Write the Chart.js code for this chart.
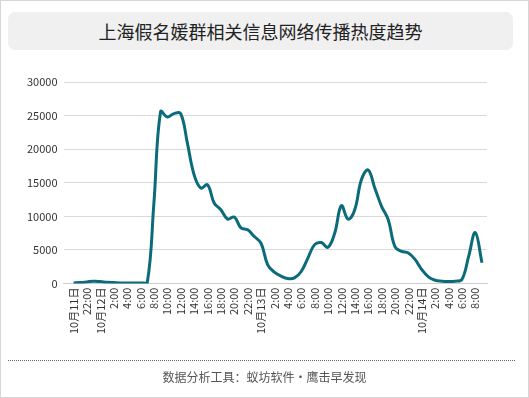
<!DOCTYPE html>
<html>
<head>
<meta charset="utf-8">
<script src="https://cdn.jsdelivr.net/npm/chart.js@4"></script>
<style>
    html, body { margin: 0; padding: 0; background: #fff; }
    body { width: 529px; height: 398px; position: relative; overflow: hidden; font-family: "Noto Sans CJK SC", "Noto Sans", sans-serif; }
    #frame { position: absolute; left: 0; top: 0; width: 527px; height: 396px; border: 1px solid #d6d6d6; }
    #title { position: absolute; left: 8px; top: 12px; width: 505px; height: 38px; background: #f0f0f0; border-radius: 7px;
        text-align: center; line-height: 38px; font-size: 18px; color: #222; }
    #chartBox { position: absolute; left: 0; top: 0; width: 529px; height: 398px; }
    #rule { position: absolute; left: 8px; top: 360px; width: 507px; border-top: 1px dotted #666; }
    #footer { position: absolute; left: 0; top: 368px; width: 529px; text-align: center; font-size: 12px; color: #555; }
</style>
</head>
<body>
<div id="frame"></div>
<div id="title">上海假名媛群相关信息网络传播热度趋势</div>
<div id="chartBox"><canvas id="myChart" width="529" height="398"></canvas></div>
<div id="rule"></div>
<div id="footer">数据分析工具：蚁坊软件·鹰击早发现</div>

<script>
// hourly, 10月11日 20:00 -> 10月14日 9:00
const hourLabels = [
    "10月11日", "21:00", "22:00", "23:00",
    "10月12日", "1:00", "2:00", "3:00", "4:00", "5:00", "6:00", "7:00", "8:00", "9:00", "10:00", "11:00",
    "12:00", "13:00", "14:00", "15:00", "16:00", "17:00", "18:00", "19:00", "20:00", "21:00", "22:00", "23:00",
    "10月13日", "1:00", "2:00", "3:00", "4:00", "5:00", "6:00", "7:00", "8:00", "9:00", "10:00", "11:00",
    "12:00", "13:00", "14:00", "15:00", "16:00", "17:00", "18:00", "19:00", "20:00", "21:00", "22:00", "23:00",
    "10月14日", "1:00", "2:00", "3:00", "4:00", "5:00", "6:00", "7:00", "8:00", "9:00"
];

const heatValues = [
    100, 150, 250, 350, 300, 200, 150, 100, 100, 100, 100, 100,
    12000, 25600, 24800, 25300, 25300, 20900, 16200, 14200, 14700, 12000, 11000, 9600,
    9900, 8300, 8000, 7000, 6000, 2800, 1700, 1100, 740, 840, 1800, 3800,
    5800, 6100, 5400, 7500, 11600, 9600, 11000, 15500, 16900, 14200, 11500, 9500,
    5500, 4800, 4550, 3600, 2100, 1000, 500, 350, 300, 350, 600, 4000,
    7600, 3100
];

const yTicks = [0, 5000, 10000, 15000, 20000, 25000, 30000];

const ctx = document.getElementById('myChart');

// points placed by hour index on a linear x scale
const points = heatValues.map(function (v, i) {
    return { x: i, y: v };
});

new Chart(ctx, {
    type: 'line',
    data: {
        datasets: [
            {
                label: '热度',
                data: points,
                borderColor: '#0b6b7b',
                borderWidth: 3,
                pointRadius: 0,
                tension: 0.4,
                fill: false
            }
        ]
    },
    options: {
        responsive: false,
        animation: false,
        layout: { padding: { top: 82, left: 21, right: 42, bottom: 60 } },
        plugins: {
            legend: { display: false },
            tooltip: { enabled: false }
        },
        scales: {
            x: {
                type: 'linear',
                min: -1.5,
                max: 61.75,
                afterBuildTicks: function (axis) {
                    var t = [];
                    for (var i = 0; i < hourLabels.length; i += 2) t.push({ value: i });
                    axis.ticks = t;
                },
                grid: { display: false, drawTicks: false },
                border: { color: '#cccccc' },
                ticks: {
                    autoSkip: false,
                    maxRotation: 90,
                    minRotation: 90,
                    padding: 4,
                    color: '#333',
                    font: { family: 'Noto Sans CJK SC', size: 11 },
                    callback: function (value) {
                        return hourLabels[value];
                    }
                }
            },
            y: {
                min: 0,
                max: 30000,
                afterBuildTicks: function (axis) {
                    axis.ticks = yTicks.map(function (v) { return { value: v }; });
                },
                grid: { color: '#d9d9d9', drawTicks: false },
                border: { display: false },
                ticks: {
                    padding: 6,
                    color: '#333',
                    font: { family: 'Noto Sans CJK SC', size: 11 },
                    callback: function (value) { return String(value); }
                }
            }
        }
    }
});
</script>
</body>
</html>
